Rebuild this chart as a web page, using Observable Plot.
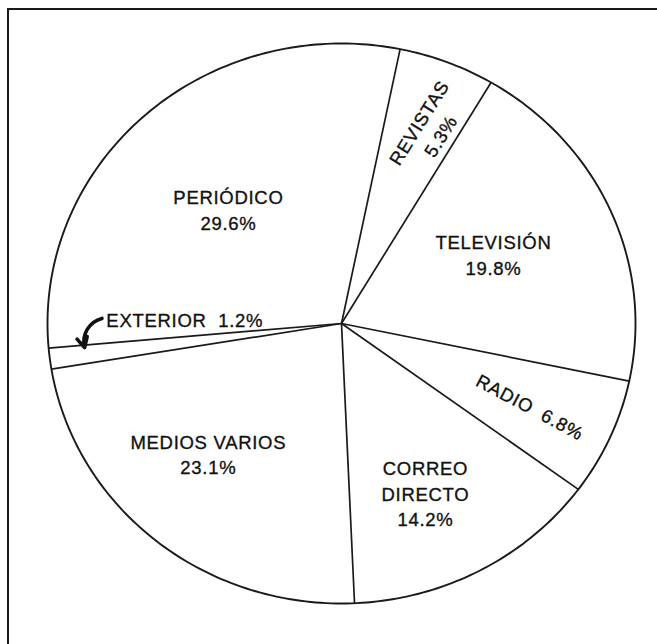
<!DOCTYPE html>
<html><head><meta charset="utf-8">
<script src="https://cdn.jsdelivr.net/npm/d3@7"></script>
<script src="https://cdn.jsdelivr.net/npm/@observablehq/plot@0.6"></script>
<style>
body{margin:0;background:#fff;}
#wrap{position:relative;width:657px;height:644px;overflow:hidden;background:#fff;}
#frame{position:absolute;left:7px;top:8px;width:700px;height:700px;border-left:2px solid #1a1a1a;border-top:2px solid #1a1a1a;}
#chart{position:absolute;left:0;top:0;}
#chart text{letter-spacing:0.7px;}
</style></head><body><div id="wrap"><div id="frame"></div><div id="chart"></div></div>
<script>
// ---- data ----
const categories = ["REVISTAS","TELEVISIÓN","RADIO","CORREO DIRECTO","MEDIOS VARIOS","EXTERIOR","PERIÓDICO"];
const shares = [5.3, 19.8, 6.8, 14.2, 23.1, 1.2, 29.6];
const shareLabels = ["5.3%","19.8%","6.8%","14.2%","23.1%","1.2%","29.6%"];

// ---- layout (not data) ----
const startAngleDeg = 11.5; // first boundary, clockwise from 12 o'clock
const labelLayout = [
  {lines:"two",   dAngle:2,    r:0.756, rotate:-58, anchor:"middle"},
  {lines:"two",   dAngle:-2,   r:0.574, rotate:0,   anchor:"middle"},
  {lines:"one",   dAngle:0.4,  r:0.707, rotate:28,  anchor:"middle"},
  {lines:"split", dAngle:2.8,  r:0.668, rotate:0,   anchor:"middle"},
  {lines:"two",   dAngle:5.3,  r:0.648, rotate:0,   anchor:"middle"},
  {lines:"one",   dAngle:8.5,  r:0.80,  rotate:0,   anchor:"start"},
  {lines:"two",   dAngle:-1.4, r:0.562, rotate:0,   anchor:"middle"}
];

const rad = d => d * Math.PI / 180;
const arcs = d3.pie().sort(null).value(d => d)
  .startAngle(rad(startAngleDeg)).endAngle(rad(startAngleDeg + 360))(shares);

const slices = categories.map((c, i) => ({
  name: c, share: shares[i], label: shareLabels[i],
  a0: arcs[i].startAngle, a1: arcs[i].endAngle, mid: (arcs[i].startAngle + arcs[i].endAngle) / 2
}));

// outline of the disc
const outline = d3.range(0, 361, 1).map(a => ({x: Math.sin(rad(a)), y: Math.cos(rad(a))}));

// label records
const labels = slices.map((s, i) => {
  const L = labelLayout[i];
  let text;
  if (L.lines === "two") text = s.name + "\n" + s.label;
  else if (L.lines === "split") text = s.name.split(" ").join("\n") + "\n" + s.label;
  else text = s.name + "\u00a0 " + s.label;
  const a = s.mid + rad(L.dAngle);
  return {text, x: L.r * Math.sin(a), y: L.r * Math.cos(a), rotate: L.rotate, anchor: L.anchor};
});

// arrow for the small slice
const ext = slices[5];
const arrowA0 = ext.mid + rad(8.5), arrowA1 = ext.mid + rad(1.6);
const arrow = [{x1: 0.815 * Math.sin(arrowA0), y1: 0.815 * Math.cos(arrowA0), x2: 0.878 * Math.sin(arrowA1), y2: 0.878 * Math.cos(arrowA1)}];

const textMarks = ["start","middle"].map(anchor =>
  Plot.text(labels.filter(d => d.anchor === anchor), {
    x: "x", y: "y", text: "text", rotate: "rotate", textAnchor: anchor,
    fontSize: 18.5, fill: "#111", stroke: "#111", strokeWidth: 0.35, lineHeight: 1.38,
    fontFamily: "Liberation Sans, Arial, sans-serif"
  })
);

const chart = Plot.plot({
  width: 657, height: 644, margin: 0,
  x: {domain: [-1, 1], range: [47, 635], axis: null},
  y: {domain: [-1, 1], range: [603, 43], axis: null},
  style: {background: "transparent", overflow: "visible"},
  marks: [
    Plot.line(outline, {x: "x", y: "y", stroke: "#1a1a1a", strokeWidth: 1.9}),
    Plot.link(slices, {x1: () => 0, y1: () => 0, x2: d => Math.sin(d.a0), y2: d => Math.cos(d.a0), stroke: "#1a1a1a", strokeWidth: 1.7}),
    ...textMarks,
    Plot.arrow(arrow, {x1: "x1", y1: "y1", x2: "x2", y2: "y2", bend: -45, stroke: "#111", strokeWidth: 3.6, headLength: 12, headAngle: 55, strokeLinejoin: "miter"})
  ]
});
document.getElementById("chart").appendChild(chart);
</script>
</body></html>
